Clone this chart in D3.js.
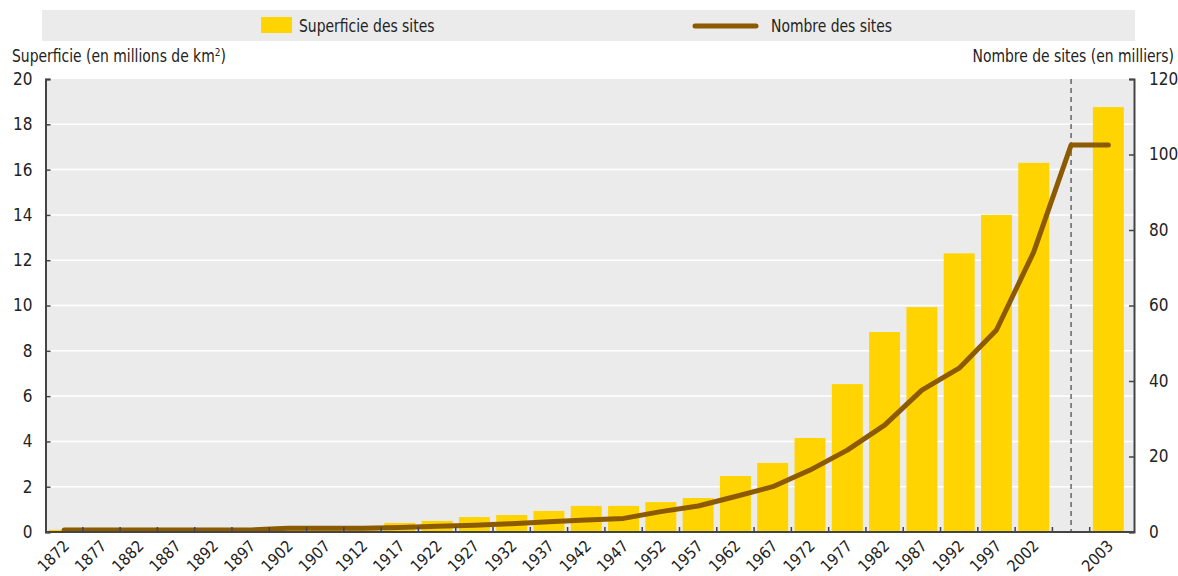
<!DOCTYPE html>
<html>
<head>
<meta charset="utf-8">
<script src="https://cdn.jsdelivr.net/npm/d3@7"></script>
<style>
  body { margin: 0; background: #fff; }
  svg text { font-family: "Liberation Sans Narrow", "DejaVu Sans Condensed", "Roboto Condensed", sans-serif; fill: #222; }
</style>
</head>
<body>
<svg width="1178" height="576"></svg>
<script>
// categories (the empty slot is the gap before 2003)
const annees = ["1872","1877","1882","1887","1892","1897","1902","1907","1912","1917","1922","1927","1932","1937","1942","1947","1952","1957","1962","1967","1972","1977","1982","1987","1992","1997","2002","","2003"];
// superficie des sites, millions de km2
const superficie = [0.1,0.1,0.1,0.1,0.1,0.1,0.2,0.2,0.25,0.40,0.49,0.66,0.75,0.93,1.15,1.15,1.32,1.50,2.47,3.05,4.15,6.53,8.83,9.93,12.3,14.0,16.3,null,18.76];
// nombre des sites, milliers
const nombre = [0.55,0.55,0.55,0.55,0.55,0.55,1.0,1.0,1.0,1.2,1.5,1.8,2.2,2.7,3.2,3.6,5.4,6.9,9.4,12.0,16.4,21.7,28.3,37.6,43.4,53.5,74.2,102.5,102.5];
const ticksGauche = [0,2,4,6,8,10,12,14,16,18,20];
const ticksDroite = [0,20,40,60,80,100,120];

const svg = d3.select("svg");
const gauche = 45.5, droite = 1134, haut = 79, bas = 532;
const serre = 0.91; // police condensée

const x = d3.scaleBand().domain(d3.range(annees.length)).range([gauche, 1127]).paddingInner(0.17).paddingOuter(0.085);
const xb = d3.scaleBand().domain(d3.range(annees.length)).range([gauche, 1127]);
const y = d3.scaleLinear().domain([0, 20]).range([bas, haut]);
const y2 = d3.scaleLinear().domain([0, 120]).range([bas, haut]);

function texte(px, py, ancre) {
  return svg.append("text").attr("transform", `translate(${px},${py}) scale(${serre},1)`)
    .attr("font-size", 17).attr("text-anchor", ancre || "start");
}

// legende
svg.append("rect").attr("x", 42).attr("y", 10).attr("width", 1093).attr("height", 31).attr("fill", "#ebebeb");
svg.append("rect").attr("x", 261).attr("y", 17).attr("width", 31).attr("height", 16).attr("fill", "#ffd400");
texte(299, 32).text("Superficie des sites");
svg.append("line").attr("x1", 695).attr("x2", 756).attr("y1", 26).attr("y2", 26)
  .attr("stroke", "#8c5a00").attr("stroke-width", 5).attr("stroke-linecap", "round");
texte(771, 32).text("Nombre des sites");

// titres des axes
texte(12, 62).html("Superficie (en millions de km<tspan dy='-6' font-size='11'>2</tspan><tspan dy='6'>)</tspan>");
texte(1174, 62, "end").text("Nombre de sites (en milliers)");

// fond
svg.append("rect").attr("x", gauche).attr("y", haut).attr("width", droite - gauche).attr("height", bas - haut).attr("fill", "#ebebeb");
svg.append("g").selectAll("line").data(ticksGauche.filter(d => d > 0 && d < 20)).join("line")
  .attr("x1", gauche).attr("x2", droite).attr("y1", d => y(d)).attr("y2", d => y(d))
  .attr("stroke", "#fff").attr("stroke-width", 1.5);

// barres
svg.append("g").selectAll("rect").data(superficie.map((v, i) => ({v, i})).filter(d => d.v != null)).join("rect")
  .attr("x", d => x(d.i)).attr("width", x.bandwidth())
  .attr("y", d => y(d.v)).attr("height", d => bas - y(d.v))
  .attr("fill", "#ffd400");

// separation avant 2003
const xs = xb(27) + xb.bandwidth() / 2;
svg.append("line").attr("x1", xs).attr("x2", xs).attr("y1", haut).attr("y2", bas)
  .attr("stroke", "#222").attr("stroke-width", 1).attr("stroke-dasharray", "5,4");

// courbe
const ligne = d3.line().x((d, i) => xb(i) + xb.bandwidth() / 2).y(d => y2(d));
svg.append("path").datum(nombre).attr("d", ligne).attr("fill", "none")
  .attr("stroke", "#8c5a00").attr("stroke-width", 5).attr("stroke-linecap", "round").attr("stroke-linejoin", "round");

// axes
const axeX = svg.append("g").attr("transform", `translate(0,${bas})`);
axeX.selectAll("line.t").data(d3.range(1, annees.length)).join("line").attr("class", "t")
  .attr("x1", d => xb(d)).attr("x2", d => xb(d)).attr("y1", 0).attr("y2", -5)
  .attr("stroke", "#444").attr("stroke-width", 1.5);
axeX.append("line").attr("x1", gauche).attr("x2", droite).attr("stroke", "#444").attr("stroke-width", 2);
axeX.selectAll("text").data(annees.map((a, i) => ({a, i}))).join("text")
  .attr("transform", d => `translate(${xb(d.i) + xb.bandwidth() / 2 + 2},${11}) rotate(-45)`)
  .attr("text-anchor", "end").attr("dy", "0.35em").attr("font-size", 16).text(d => d.a);

const axeG = svg.append("g").attr("transform", `translate(${gauche},0)`);
axeG.call(d3.axisLeft(y).tickValues(ticksGauche).tickSize(-5).tickPadding(13).tickFormat(d3.format("d")));
const axeD = svg.append("g").attr("transform", `translate(${droite},0)`);
axeD.call(d3.axisRight(y2).tickValues(ticksDroite).tickSize(-5).tickPadding(15).tickFormat(d3.format("d")));
[axeG, axeD].forEach(g => {
  g.select(".domain").attr("stroke", "#444").attr("stroke-width", 2);
  g.selectAll(".tick line").attr("stroke", "#444").attr("stroke-width", 1.5);
  g.selectAll(".tick text").attr("font-size", 17).attr("font-family", null).attr("fill", "#222");
});
</script>
</body>
</html>
